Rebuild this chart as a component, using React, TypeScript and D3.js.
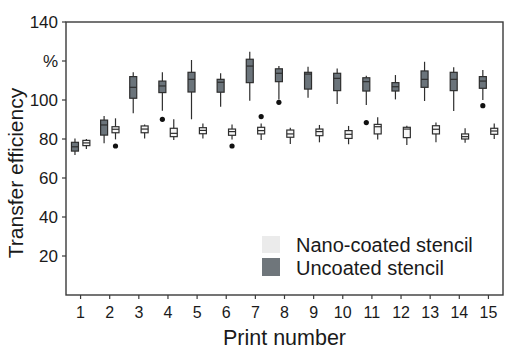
import React from "react";
import * as d3 from "d3";

const prints = [1, 2, 3, 4, 5, 6, 7, 8, 9, 10, 11, 12, 13, 14, 15];

// Uncoated stencil: [whiskerLow, q1, median, q3, whiskerHigh]
const uncoatedStats: number[][] = [
  [71.8, 73.8, 76.0, 78.3, 80.3],
  [77.8, 82.0, 87.2, 89.7, 91.8],
  [93.2, 100.9, 106.5, 112.0, 114.2],
  [94.5, 103.8, 107.2, 109.7, 114.2],
  [90.1, 104.1, 110.6, 114.2, 120.5],
  [96.6, 104.0, 109.1, 110.6, 113.7],
  [99.6, 108.9, 117.4, 120.9, 124.8],
  [100.3, 109.4, 113.7, 116.0, 117.4],
  [101.2, 105.6, 113.3, 114.2, 117.1],
  [97.9, 104.8, 111.1, 113.7, 116.2],
  [97.4, 104.6, 109.4, 111.4, 112.5],
  [100.3, 104.6, 106.8, 108.9, 112.8],
  [99.5, 106.5, 110.6, 114.9, 119.6],
  [94.4, 104.8, 110.6, 114.2, 116.8],
  [100.0, 106.0, 109.7, 112.0, 115.4],
];
const uncoatedOutliers: number[][] = [
  [], [], [], [90.1], [], [], [], [98.8], [], [], [88.4], [], [], [], [97.1],
];

// Nano-coated stencil
const nanoStats: number[][] = [
  [74.9, 76.6, 78.0, 79.3, 80.0],
  [79.8, 83.2, 85.0, 86.3, 90.6],
  [80.3, 83.2, 85.1, 86.7, 87.5],
  [79.5, 81.2, 82.9, 85.5, 90.1],
  [80.3, 82.7, 84.4, 85.8, 88.0],
  [79.8, 81.9, 83.8, 85.1, 87.5],
  [79.5, 82.6, 84.3, 86.0, 88.0],
  [77.4, 80.9, 82.6, 84.6, 85.8],
  [78.3, 81.7, 83.8, 85.1, 87.2],
  [77.3, 80.3, 82.4, 84.3, 86.7],
  [79.8, 82.6, 86.3, 87.5, 91.1],
  [76.9, 80.7, 85.1, 86.0, 86.8],
  [78.3, 82.6, 85.0, 86.8, 88.4],
  [78.1, 80.0, 81.2, 82.6, 85.5],
  [80.0, 82.4, 84.1, 85.5, 88.0],
];
const nanoOutliers: number[][] = [
  [], [76.4], [], [], [], [76.4], [91.5], [], [], [], [], [], [], [], [],
];

const yTicks = [20, 40, 60, 80, 100, 120, 140];
const yTickLabels = ["20", "40", "60", "80", "100", "%", "140"];
const legendLabels = ["Nano-coated stencil", "Uncoated stencil"];

const W = 527;
const H = 355;
const FONT = "Arial, 'Liberation Sans', Helvetica, sans-serif";
const DARK = "#6b747b";
const LIGHT = "#f7f7f7";
const STROKE = "#2e2e2e";

export default function App() {
  const x = d3.scaleLinear().domain([0.5, 15.5]).range([66, 503]);
  const y = d3.scaleLinear().domain([0, 140]).range([295, 22]);
  const bw = 7;

  const renderBox = (
    s: number[],
    outs: number[],
    cx: number,
    fill: string,
    key: string
  ) => {
    const [lo, q1, med, q3, hi] = s;
    return (
      <g key={key}>
        <line x1={cx} x2={cx} y1={y(hi)} y2={y(lo)} stroke={STROKE} strokeWidth={1.2} />
        <rect
          x={cx - bw / 2}
          y={y(q3)}
          width={bw}
          height={y(q1) - y(q3)}
          fill={fill}
          stroke={STROKE}
          strokeWidth={1.2}
        />
        <line x1={cx - bw / 2} x2={cx + bw / 2} y1={y(med)} y2={y(med)} stroke={STROKE} strokeWidth={1.2} />
        {outs.map((o, i) => (
          <circle key={i} cx={cx} cy={y(o)} r={2.6} fill="#111" />
        ))}
      </g>
    );
  };

  return (
    <svg width={W} height={H} style={{ position: "absolute", left: 0, top: 0, background: "#fff" }}>
      <rect x={0} y={0} width={W} height={H} fill="#fff" />
      {/* frame */}
      <rect x={66} y={22} width={437} height={273} fill="none" stroke="#3a3a3a" strokeWidth={1.4} />
      {/* y ticks */}
      {yTicks.map((t, i) => (
        <g key={t}>
          <line x1={62} x2={66} y1={y(t)} y2={y(t)} stroke="#3a3a3a" strokeWidth={1.2} />
          <text
            x={58}
            y={y(t)}
            dy="0.35em"
            textAnchor="end"
            fontFamily={FONT}
            fontSize={17}
            fill="#1a1a1a"
          >
            {yTickLabels[i]}
          </text>
        </g>
      ))}
      {/* x ticks */}
      {prints.map((p) => (
        <g key={p}>
          <line x1={x(p)} x2={x(p)} y1={295} y2={299} stroke="#3a3a3a" strokeWidth={1.2} />
          <text x={x(p)} y={318} textAnchor="middle" fontFamily={FONT} fontSize={16} fill="#1a1a1a">
            {p}
          </text>
        </g>
      ))}
      {/* boxes */}
      {prints.map((p, i) =>
        renderBox(uncoatedStats[i], uncoatedOutliers[i], x(p) - 5.6, DARK, "u" + p)
      )}
      {prints.map((p, i) =>
        renderBox(nanoStats[i], nanoOutliers[i], x(p) + 5.8, LIGHT, "n" + p)
      )}
      {/* legend */}
      <rect x={262} y={236} width={18} height={17} fill="#ebebeb" />
      <rect x={262} y={258} width={18} height={18} fill="#6f767b" />
      <text x={296} y={252} fontFamily={FONT} fontSize={20} fill="#1a1a1a">
        {legendLabels[0]}
      </text>
      <text x={296} y={275} fontFamily={FONT} fontSize={20} fill="#1a1a1a">
        {legendLabels[1]}
      </text>
      {/* axis titles */}
      <text x={284.5} y={345} textAnchor="middle" fontFamily={FONT} fontSize={21.5} fill="#1a1a1a">
        Print number
      </text>
      <text
        transform="translate(23,173) rotate(-90)"
        textAnchor="middle"
        fontFamily={FONT}
        fontSize={21}
        fill="#1a1a1a"
      >
        Transfer efficiency
      </text>
    </svg>
  );
}
